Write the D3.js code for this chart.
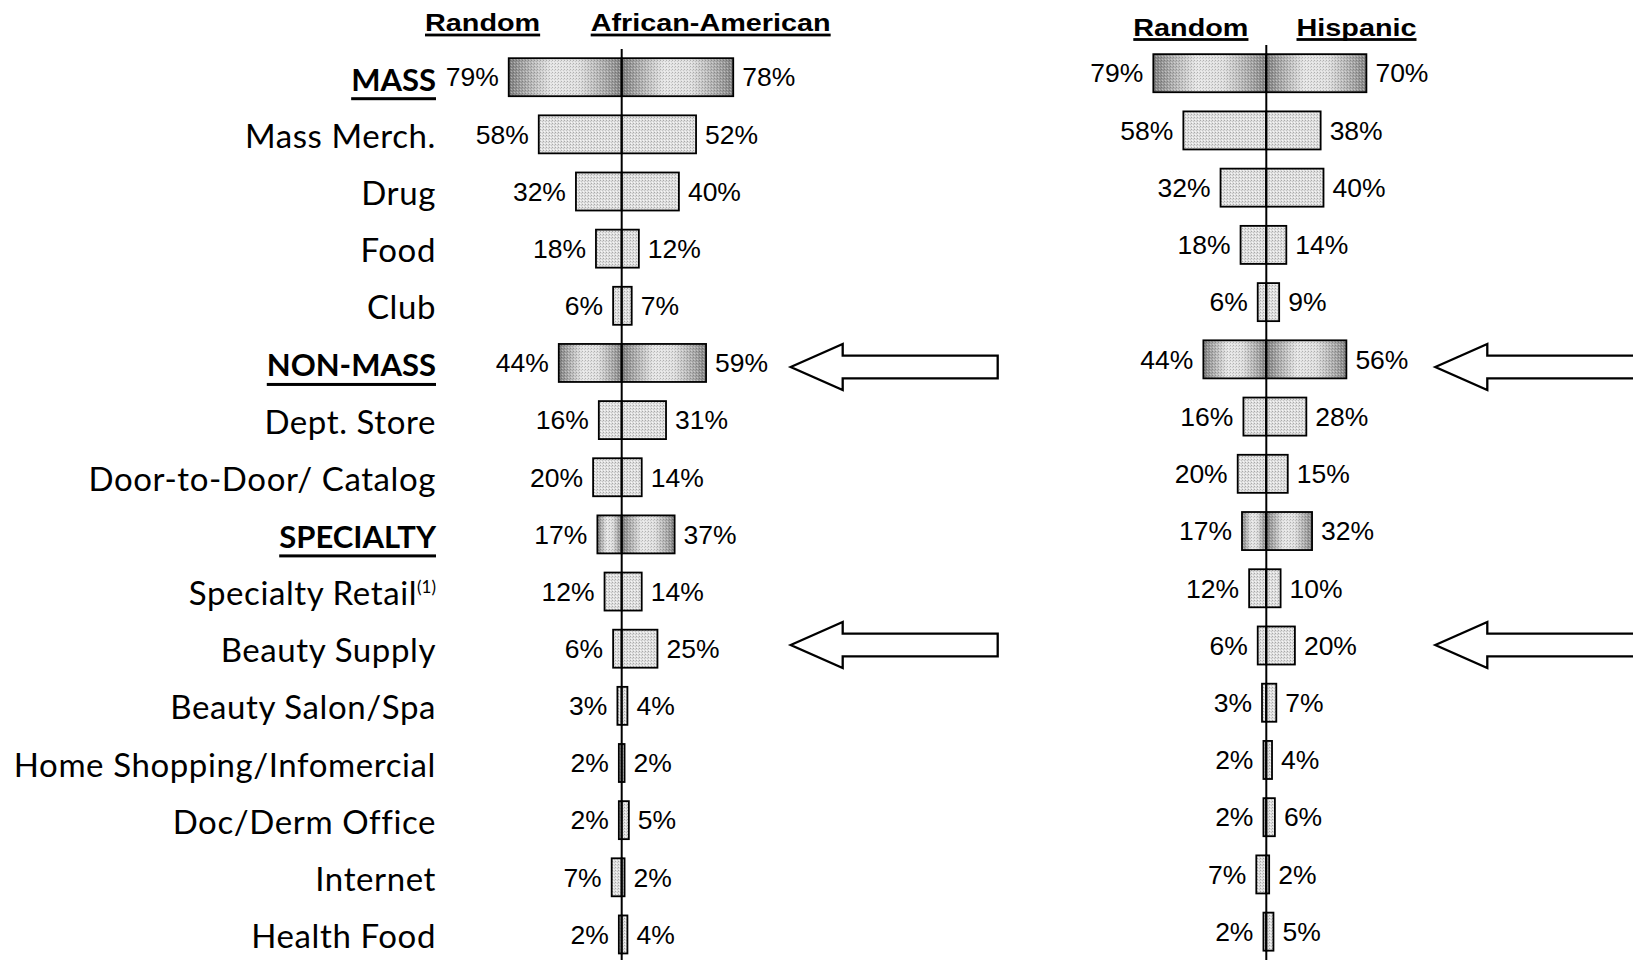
<!DOCTYPE html>
<html>
<head>
<meta charset="utf-8">
<script src="https://cdn.jsdelivr.net/npm/d3@7"></script>
<style>
  html, body { margin: 0; padding: 0; background: #fff; }
  svg { display: block; }
</style>
</head>
<body>
<svg id="chart" width="1633" height="960"></svg>
<script>
// Retail channel shopped (% of respondents), Random sample vs. ethnic segment
const categories = [
  "MASS", "Mass Merch.", "Drug", "Food", "Club",
  "NON-MASS", "Dept. Store", "Door-to-Door/ Catalog",
  "SPECIALTY", "Specialty Retail", "Beauty Supply", "Beauty Salon/Spa",
  "Home Shopping/Infomercial", "Doc/Derm Office", "Internet", "Health Food"
];
const groupRows = ["MASS", "NON-MASS", "SPECIALTY"];
const footnoted = { "Specialty Retail": "(1)" };
const highlighted = ["NON-MASS", "Beauty Supply"];

const randomShare     = [79, 58, 32, 18, 6, 44, 16, 20, 17, 12, 6, 3, 2, 2, 7, 2];
const africanAmerican = [78, 52, 40, 12, 7, 59, 31, 14, 37, 14, 25, 4, 2, 5, 2, 4];
const hispanic        = [70, 38, 40, 14, 9, 56, 28, 15, 32, 10, 20, 7, 4, 6, 2, 5];

const seriesNames = ["Random", "African-American", "Hispanic"];

const svg = d3.select("#chart");
const defs = svg.append("defs");

// fine halftone texture used on every bar
const dots = defs.append("pattern").attr("id", "dots")
  .attr("patternUnits", "userSpaceOnUse").attr("width", 3).attr("height", 3);
dots.append("rect").attr("width", 3).attr("height", 3).attr("fill", "#e0e0e0");
dots.append("rect").attr("width", 1).attr("height", 1).attr("fill", "#a9a9a9");
dots.append("rect").attr("x", 2).attr("y", 1).attr("width", 1).attr("height", 1).attr("fill", "#c4c4c4");
dots.append("rect").attr("x", 1).attr("y", 2).attr("width", 1).attr("height", 1).attr("fill", "#f6f6f6");

const dotsOverlay = defs.append("pattern").attr("id", "dotsOverlay")
  .attr("patternUnits", "userSpaceOnUse").attr("width", 3).attr("height", 3);
dotsOverlay.append("rect").attr("width", 1).attr("height", 1).attr("fill", "#000").attr("opacity", 0.22);
dotsOverlay.append("rect").attr("x", 2).attr("y", 1).attr("width", 1).attr("height", 1).attr("fill", "#000").attr("opacity", 0.12);
dotsOverlay.append("rect").attr("x", 1).attr("y", 2).attr("width", 1).attr("height", 1).attr("fill", "#fff").attr("opacity", 0.35);

// shaded fill for the channel totals: dark at both ends, light in the middle
const shade = defs.append("linearGradient").attr("id", "shade")
  .attr("x1", "0%").attr("x2", "100%").attr("y1", "0%").attr("y2", "0%");
[[0, "#7f7f7f"], [0.12, "#a4a4a4"], [0.38, "#e6e6e6"], [0.62, "#e0e0e0"], [0.88, "#a6a6a6"], [1, "#858585"]]
  .forEach(([o, c]) => shade.append("stop").attr("offset", o).attr("stop-color", c));

// bar length in pixels per percentage point
const len = d3.scaleLinear().domain([0, 100]).range([0, 143]);

const panels = [
  { axis: 621.7, firstRow: 77.2, step: 57.15, axisTop: 49, headerBase: 31,
    values: africanAmerican, name: seriesNames[1],
    headerRandomX: -196.7, headerGroupX: -31, showCategories: true },
  { axis: 1266.3, firstRow: 73.2, step: 57.23, axisTop: 45, headerBase: 35.5,
    values: hispanic, name: seriesNames[2],
    headerRandomX: -133, headerGroupX: 30.2, showCategories: false }
];

// callout arrows sit at the same heights in both panels
const arrowRowsY = [367, 645];

const valueFont = "'Liberation Sans', Arial, sans-serif";
const labelFont = "Lato, 'Noto Sans', sans-serif";

function header(g, text, x, base) {
  const t = g.append("text")
    .attr("x", x).attr("y", base)
    .attr("font-family", valueFont).attr("font-weight", "bold")
    .attr("font-size", 24.5).attr("fill", "#000")
    .text(text);
  const w = t.node().getComputedTextLength() * 1.175;
  t.attr("textLength", w).attr("lengthAdjust", "spacingAndGlyphs");
  g.append("rect").attr("x", x).attr("y", base + 2.6)
    .attr("width", w).attr("height", 2.8).attr("fill", "#000");
}

function arrow(g, tipX, cy) {
  const head = 52, headHalf = 23, shaftHalf = 11.3, shaftLen = 207;
  const p = d3.path();
  p.moveTo(tipX, cy);
  p.lineTo(tipX + head, cy - headHalf);
  p.lineTo(tipX + head, cy - shaftHalf);
  p.lineTo(tipX + shaftLen, cy - shaftHalf);
  p.lineTo(tipX + shaftLen, cy + shaftHalf);
  p.lineTo(tipX + head, cy + shaftHalf);
  p.lineTo(tipX + head, cy + headHalf);
  p.closePath();
  g.append("path").attr("d", p.toString())
    .attr("fill", "#fff").attr("stroke", "#000").attr("stroke-width", 2.3)
    .attr("stroke-linejoin", "miter");
}

panels.forEach(panel => {
  const g = svg.append("g");
  const n = categories.length;
  const y = d3.scaleBand()
    .domain(categories)
    .range([panel.firstRow - panel.step / 2, panel.firstRow - panel.step / 2 + n * panel.step])
    .paddingInner(0.335).paddingOuter(0.1675);
  const bw = y.bandwidth();
  const cy = c => y(c) + bw / 2;

  const rows = categories.map((c, i) => ({
    cat: c, random: randomShare[i], group: panel.values[i], isGroup: groupRows.includes(c)
  }));

  const barsG = g.append("g");
  rows.forEach(d => {
    const halves = [
      { x: panel.axis - len(d.random), w: len(d.random) },
      { x: panel.axis, w: len(d.group) }
    ];
    halves.forEach(h => {
      barsG.append("rect")
        .attr("x", h.x).attr("y", y(d.cat)).attr("width", h.w).attr("height", bw)
        .attr("fill", d.isGroup ? "url(#shade)" : "url(#dots)");
      if (d.isGroup) {
        barsG.append("rect")
          .attr("x", h.x).attr("y", y(d.cat)).attr("width", h.w).attr("height", bw)
          .attr("fill", "url(#dotsOverlay)");
      }
      barsG.append("rect")
        .attr("x", h.x).attr("y", y(d.cat)).attr("width", h.w).attr("height", bw)
        .attr("fill", "none").attr("stroke", "#000").attr("stroke-width", 1.8);
    });
  });

  // center axis
  g.append("line")
    .attr("x1", panel.axis).attr("x2", panel.axis)
    .attr("y1", panel.axisTop).attr("y2", 960)
    .attr("stroke", "#000").attr("stroke-width", 2);

  // value labels
  const vals = g.append("g").attr("font-family", valueFont).attr("font-size", 26.5).attr("fill", "#000");
  rows.forEach(d => {
    vals.append("text")
      .attr("x", panel.axis - len(d.random) - 10).attr("y", cy(d.cat)).attr("dy", "0.35em")
      .attr("text-anchor", "end").text(d.random + "%");
    vals.append("text")
      .attr("x", panel.axis + len(d.group) + 9).attr("y", cy(d.cat)).attr("dy", "0.35em")
      .attr("text-anchor", "start").text(d.group + "%");
  });

  // column headers
  header(g, seriesNames[0], panel.axis + panel.headerRandomX, panel.headerBase);
  header(g, panel.name, panel.axis + panel.headerGroupX, panel.headerBase);

  // category names
  if (panel.showCategories) {
    const labX = 436;
    rows.forEach(d => {
      const t = g.append("text")
        .attr("x", labX).attr("y", cy(d.cat) + 13.5)
        .attr("text-anchor", "end")
        .attr("font-family", labelFont)
        .attr("font-size", d.isGroup ? 31 : 33)
        .attr("letter-spacing", d.isGroup ? 0 : 0.6)
        .attr("font-weight", d.isGroup ? "bold" : "normal")
        .attr("fill", "#000");
      t.append("tspan").text(d.cat);
      if (footnoted[d.cat]) {
        t.append("tspan").attr("font-size", 17).attr("letter-spacing", 0).attr("dy", -12).text(footnoted[d.cat]);
      }
      if (d.isGroup) {
        const w = t.node().getComputedTextLength();
        g.append("rect").attr("x", labX - w).attr("y", cy(d.cat) + 13.5 + 6.5)
          .attr("width", w).attr("height", 3).attr("fill", "#000");
      }
    });
  }

  // callout arrows
  arrowRowsY.forEach(ay => arrow(g, panel.axis + 169, ay));
});
</script>
</body>
</html>
